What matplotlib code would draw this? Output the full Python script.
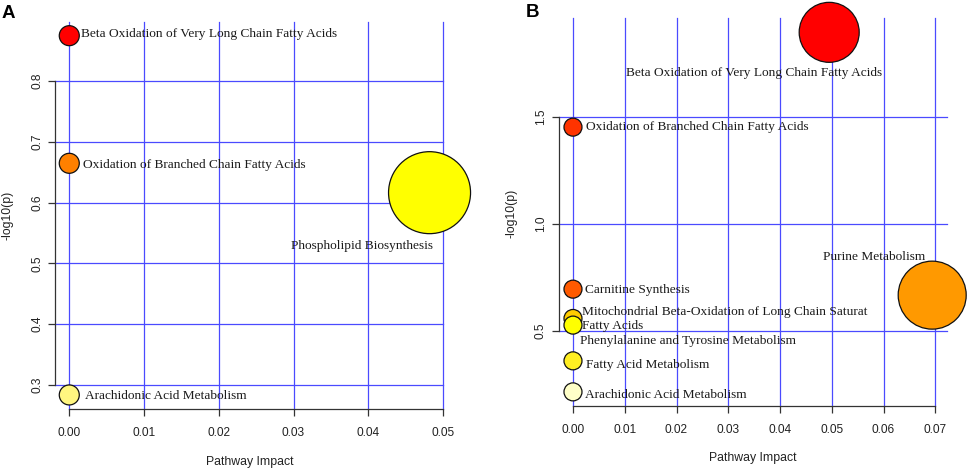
import matplotlib
matplotlib.use("Agg")
import matplotlib.pyplot as plt

# ---------------- data ----------------
a_pathways = ["Beta Oxidation of Very Long Chain Fatty Acids",
              "Oxidation of Branched Chain Fatty Acids",
              "Phospholipid Biosynthesis",
              "Arachidonic Acid Metabolism"]
a_impact = [0.0, 0.0, 0.0482, 0.0]
a_logp = [0.8745, 0.6646, 0.6163, 0.2836]
a_colors = ["#FF0000", "#FF8000", "#FFFF00", "#FFF680"]

b_pathways = ["Beta Oxidation of Very Long Chain Fatty Acids",
              "Oxidation of Branched Chain Fatty Acids",
              "Purine Metabolism",
              "Carnitine Synthesis",
              "Mitochondrial Beta-Oxidation of Long Chain Saturat\nFatty Acids",
              "Phenylalanine and Tyrosine Metabolism",
              "Fatty Acid Metabolism",
              "Arachidonic Acid Metabolism"]
b_impact = [0.0495, 0.0, 0.0694, 0.0, 0.0, 0.0, 0.0, 0.0]
b_logp = [1.896, 1.453, 0.668, 0.696, 0.559, 0.528, 0.361, 0.216]
b_colors = ["#FF0000", "#FF3300", "#FF9900", "#FF5A00", "#FFCC00",
            "#FFFF00", "#FFEE22", "#FFFFC8"]

a_xticks = [0.00, 0.01, 0.02, 0.03, 0.04, 0.05]
a_yticks = [0.3, 0.4, 0.5, 0.6, 0.7, 0.8]
b_xticks = [0.00, 0.01, 0.02, 0.03, 0.04, 0.05, 0.06, 0.07]
b_yticks = [0.5, 1.0, 1.5]

# ---------------- style ----------------
a_radius_px = [10, 10, 41, 10]
b_radius_px = [30, 9, 34, 9, 9, 9, 9, 9]
# label offsets in pixels (dx, dy), horizontal alignment
a_label_style = [((12, 1.5), "left"), ((14, -1.5), "left"),
                 ((3, -53), "right"), ((15.5, -1), "left")]
b_label_style = [((-75, -40.5), "center"), ((13.5, 0), "left"),
                 ((-58.5, 38.5), "center"), ((12.5, -1.3), "left"),
                 ((9.3, -0.5), "left"), ((7, -16), "left"),
                 ((13, -4.3), "left"), ((12, -3.3), "left")]

W, H = 969, 470
DPI = 100
fig = plt.figure(figsize=(W / DPI, H / DPI), dpi=DPI)
fig.patch.set_facecolor("white")

GRID = "#4a4aff"
AXC = "#333333"
SERIF = ["Liberation Serif", "DejaVu Serif"]
SANS = ["Liberation Sans", "DejaVu Sans"]


def px_rect(x0, y0, x1, y1):
    return [x0 / W, 1 - y1 / H, (x1 - x0) / W, (y1 - y0) / H]


def draw(ax, impact, logp, colors, radii, names, lstyle, xticks, yticks,
         xlim, ylim, xlab_px, ylab_px, letter_px, letter):
    ax.set_xlim(*xlim)
    ax.set_ylim(*ylim)
    ax.set_xticks(xticks)
    ax.set_xticklabels(["%.2f" % v for v in xticks])
    ax.set_yticks(yticks)
    ax.set_yticklabels(["%.1f" % v for v in yticks], rotation=90, va="center")
    ax.grid(True, color=GRID, lw=0.9)
    for gl in ax.get_xgridlines() + ax.get_ygridlines():
        gl.set_clip_on(False)
    ax.set_axisbelow(True)
    for s in ["top", "right"]:
        ax.spines[s].set_visible(False)
    ax.spines["left"].set_bounds(yticks[0], yticks[-1])
    ax.spines["bottom"].set_bounds(xticks[0], xticks[-1])
    for s in ["left", "bottom"]:
        ax.spines[s].set_color(AXC)
        ax.spines[s].set_linewidth(0.9)
    ax.tick_params(axis="both", direction="out", length=5, width=0.9,
                   color=AXC, labelcolor="#222222", labelsize=8.6)
    ax.tick_params(axis="x", pad=8.3)
    ax.tick_params(axis="y", pad=3.5)
    for lbl in ax.get_xticklabels() + ax.get_yticklabels():
        lbl.set_family(SANS)

    sizes = [(2 * r * 72 / DPI) ** 2 for r in radii]
    ax.scatter(impact, logp, s=sizes, c=colors, edgecolors="#111111",
               linewidths=0.9, zorder=3, clip_on=False)
    for x, y, name, ((dx, dy), ha) in zip(impact, logp, names, lstyle):
        ax.annotate(name, (x, y), xytext=(dx, dy), textcoords="offset pixels",
                    ha=ha, va="center", fontsize=9.65, family=SERIF,
                    color="#1a1a1a", zorder=4, linespacing=1.2,
                    annotation_clip=False)

    fig.text(xlab_px[0] / W, 1 - xlab_px[1] / H, "Pathway Impact",
             ha="center", va="center", fontsize=8.8, family=SANS,
             color="#222222")
    fig.text(ylab_px[0] / W, 1 - ylab_px[1] / H, "-log10(p)",
             ha="center", va="center", rotation=90, fontsize=8.8,
             family=SANS, color="#222222")
    fig.text(letter_px[0] / W, 1 - letter_px[1] / H, letter,
             ha="left", va="top", fontsize=13.5, fontweight="bold",
             family=SANS, color="black")


axA = fig.add_axes(px_rect(55.3, 22, 443, 409))
draw(axA, a_impact, a_logp, a_colors, a_radius_px, a_pathways, a_label_style,
     a_xticks, a_yticks, (-0.00187, 0.0500), (0.2605, 0.897),
     (250, 461.5), (7.5, 215), (2, 5), "A")

axB = fig.add_axes(px_rect(558.7, 18, 947, 406))
draw(axB, b_impact, b_logp, b_colors, b_radius_px, b_pathways, b_label_style,
     b_xticks, b_yticks, (-0.00276, 0.07226), (0.150, 1.963),
     (753, 458), (511.5, 213), (526, 4), "B")

fig.savefig("out.png", dpi=DPI, facecolor="white")
